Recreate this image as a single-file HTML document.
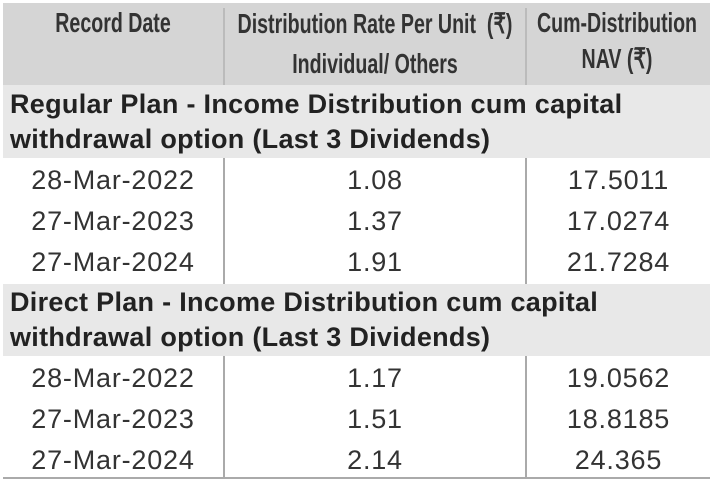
<!DOCTYPE html>
<html><head><meta charset="utf-8"><style>
body{margin:0;width:715px;height:487px;background:#fff;position:relative;overflow:hidden;font-family:"Liberation Sans",sans-serif;color:#2b2b2b}
.a{position:absolute;box-sizing:border-box}
.hd{background:#d5d5d5}
.sec{background:#e8e8e8}
.ht{position:absolute;white-space:nowrap;font-weight:bold;font-size:28px;color:#333;transform:translateX(-50%) scaleX(0.70);transform-origin:center}
.st{position:absolute;left:10px;font-weight:bold;font-size:27px;line-height:35px;color:#222;white-space:nowrap;letter-spacing:0.3px}
.c{position:absolute;text-align:center;font-size:27px;color:#333;line-height:42px;letter-spacing:0.8px}
.vl{position:absolute;width:2px;background:#aaa}
</style></head><body>
<div class="a hd" style="left:3px;top:3px;width:707px;height:82px"></div>
<div class="vl" style="left:223px;top:8px;height:77px;background:#bbb"></div>
<div class="vl" style="left:525px;top:8px;height:77px;background:#bbb"></div>
<div class="ht" style="left:113px;top:7px">Record Date</div>
<div class="ht" style="left:375px;top:7px">Distribution Rate Per Unit &nbsp;(₹)</div>
<div class="ht" style="left:375px;top:48px">Individual/ Others</div>
<div class="ht" style="left:617px;top:7px">Cum-Distribution</div>
<div class="ht" style="left:617px;top:42px">NAV (₹)</div>

<div class="a sec" style="left:3px;top:85px;width:707px;height:73px"></div>
<div class="st" style="top:87px">Regular Plan - Income Distribution cum capital<br>withdrawal option (Last 3 Dividends)</div>

<div class="vl" style="left:223px;top:158px;height:126px"></div>
<div class="vl" style="left:525px;top:158px;height:126px"></div>
<div class="a sec" style="left:3px;top:284px;width:707px;height:72px"></div>
<div class="st" style="top:285px">Direct Plan - Income Distribution cum capital<br>withdrawal option (Last 3 Dividends)</div>
<div class="vl" style="left:223px;top:356px;height:122px"></div>
<div class="vl" style="left:525px;top:356px;height:122px"></div>
<div class="a" style="left:3px;top:477px;width:707px;height:2px;background:#aaa"></div>

<script>
const dates=["28-Mar-2022","27-Mar-2023","27-Mar-2024","28-Mar-2022","27-Mar-2023","27-Mar-2024"];
const rates=["1.08","1.37","1.91","1.17","1.51","2.14"];
const navs=["17.5011","17.0274","21.7284","19.0562","18.8185","24.365"];
const tops=[159,200,241,357,398,439];
const cols=[[3,220],[225,300],[527,183]];
for(let i=0;i<dates.length;i++){
  [dates[i],rates[i],navs[i]].forEach((v,j)=>{
    const d=document.createElement('div');
    d.className='c';
    
    
    d.style.left=cols[j][0]+'px';d.style.width=cols[j][1]+'px';d.style.top=tops[i]+'px';
    d.textContent=v;document.body.appendChild(d);
  });
}
</script>
</body></html>
